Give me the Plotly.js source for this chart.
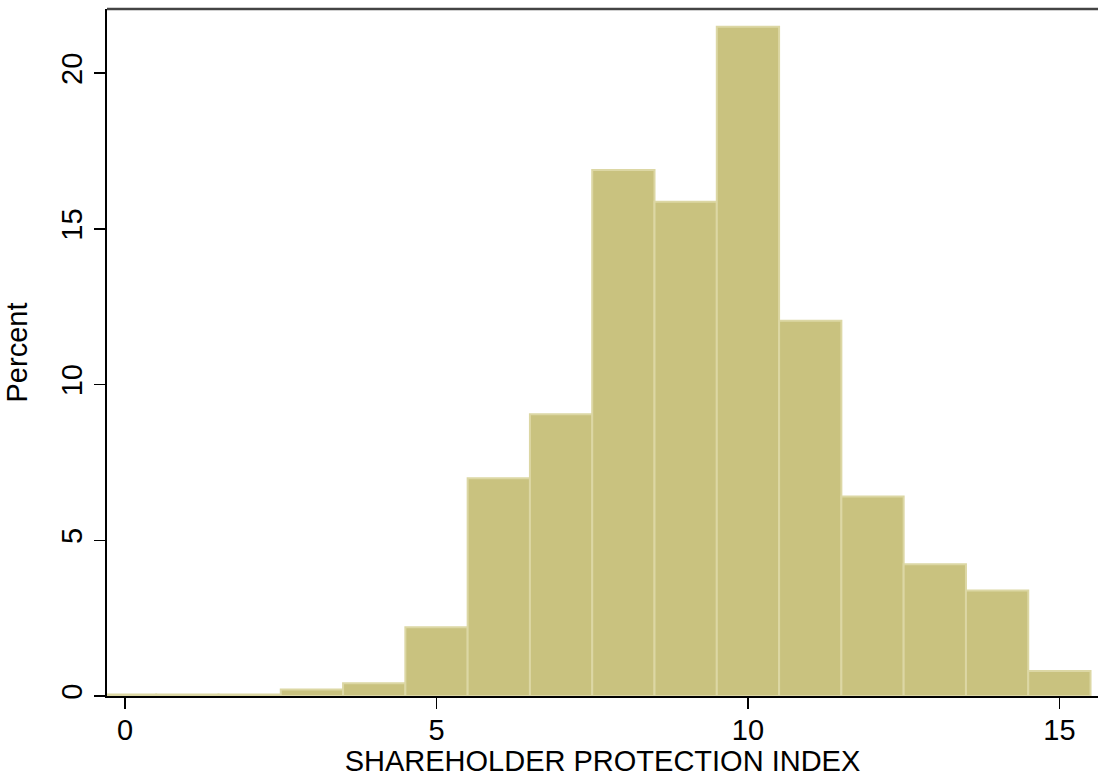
<!DOCTYPE html>
<html>
<head>
<meta charset="utf-8">
<script src="https://cdn.plot.ly/plotly-3.0.1.min.js"></script>
<style>html,body{margin:0;padding:0;background:#fff;}#chart{width:1098px;height:777px;}</style>
</head>
<body>
<div id="chart"></div>
<script>
// Bin centres (index value) and percent of observations in each bin
var bins = [0, 1, 2, 3, 4, 5, 6, 7, 8, 9, 10, 11, 12, 13, 14, 15];
var percent = [0.05, 0.05, 0.05, 0.21, 0.41, 2.21, 6.99, 9.05, 16.89, 15.87, 21.49, 12.05, 6.41, 4.23, 3.39, 0.80];
var xTickVals = [0, 5, 10, 15];
var yTickVals = [0, 5, 10, 15, 20];
var xTitle = "SHAREHOLDER PROTECTION INDEX";
var yTitle = "Percent";

var font = {family: "Liberation Sans, Arial, sans-serif", size: 29, color: "#000"};

var trace = {
  type: "bar",
  x: bins,
  y: percent,
  width: 1,
  marker: {color: "#c9c27f", line: {color: "#dcd7a4", width: 2}},
  hoverinfo: "skip"
};

var layout = {
  width: 1098,
  height: 777,
  margin: {l: 107, r: 0, t: 9, b: 81, autoexpand: false},
  paper_bgcolor: "#fff",
  plot_bgcolor: "#fff",
  showlegend: false,
  bargap: 0,
  font: font,
  xaxis: {
    range: [-0.29, 15.62],
    tickvals: xTickVals,
    ticks: "outside",
    ticklen: 11,
    tickwidth: 1.5,
    tickcolor: "#000",
    ticklabelstandoff: -4,
    showline: true,
    linecolor: "#000",
    linewidth: 2,
    showgrid: false,
    zeroline: false,
    tickfont: font,
    title: {text: xTitle, font: font, standoff: 1}
  },
  yaxis: {
    range: [0, 22.06],
    tickvals: yTickVals,
    ticks: "outside",
    ticklen: 11,
    tickwidth: 1.5,
    tickcolor: "#000",
    tickangle: -90,
    showline: true,
    linecolor: "#000",
    linewidth: 2,
    showgrid: false,
    zeroline: false,
    tickfont: font,
    title: {text: yTitle, font: font, standoff: 20}
  },
  shapes: [{
    type: "line", xref: "paper", yref: "paper",
    x0: 0, x1: 1, y0: 1, y1: 1,
    line: {color: "#444", width: 2.5}
  }]
};

Plotly.newPlot("chart", [trace], layout, {displayModeBar: false, staticPlot: true});
</script>
</body>
</html>
